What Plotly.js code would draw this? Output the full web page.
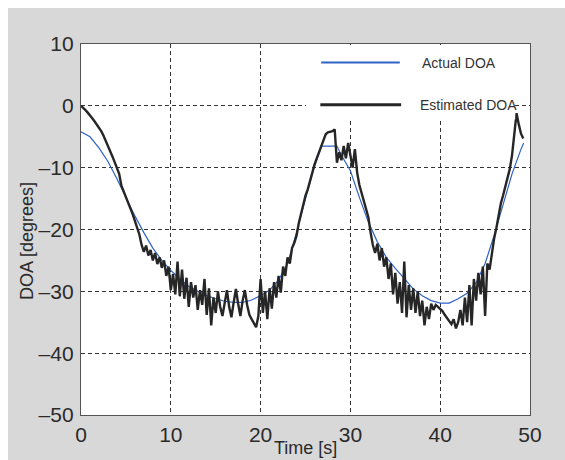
<!DOCTYPE html>
<html>
<head>
<meta charset="utf-8">
<script src="https://cdn.plot.ly/plotly-3.0.1.min.js"></script>
<style>
  html, body { margin: 0; padding: 0; background: #ffffff; overflow: hidden; }
  #chart { position: absolute; left: 8px; top: 8px; width: 557px; height: 452px; }
</style>
</head>
<body>
<div id="chart"></div>
<script>
// ---- data ----
const actualT = [0,1,2,3,4,5,6,7,8,9,10,11,12,13,14,15,16,17,18,19,20,21,22,23,24,25,26,26.8,28.5,29,30,31,32,33,34,35,36,37,38,39,40,41,42,43,44,45,46,47,48,49,49.3];
const actualDOA = [-4.2,-5.0,-6.8,-9.0,-11.8,-14.8,-17.8,-20.5,-23.0,-25.0,-26.6,-28.0,-29.2,-30.0,-30.7,-31.2,-31.6,-31.8,-31.8,-31.4,-30.7,-29.8,-28.2,-25.5,-20.5,-15.0,-9.8,-6.5,-6.5,-8.0,-10.5,-14.8,-18.8,-22.0,-24.5,-26.3,-28.0,-29.6,-30.7,-31.5,-31.9,-31.9,-31.2,-30.3,-28.6,-25.5,-21.0,-16.0,-11.0,-7.0,-6.0];

const estT = [0,0.25,0.5,0.75,1,1.25,1.5,1.75,2,2.25,2.5,2.75,3,3.25,3.5,3.75,4,4.25,4.5,4.75,5,5.25,5.5,5.75,6,6.25,6.5,6.75,7,7.25,7.5,7.75,8,8.25,8.5,8.75,9,9.25,9.5,9.75,10,10.25,10.5,10.75,11,11.25,11.5,11.75,12,12.25,12.5,12.75,13,13.25,13.5,13.75,14,14.25,14.5,14.75,15,15.25,15.5,15.75,16,16.25,16.5,16.75,17,17.25,17.5,17.75,18,18.25,18.5,18.75,19,19.25,19.5,19.75,20,20.25,20.5,20.75,21,21.25,21.5,21.75,22,22.25,22.5,22.75,23,23.25,23.5,23.75,24,24.25,24.5,24.75,25,25.25,25.5,25.75,26,26.25,26.5,26.75,27,27.25,27.5,27.75,28,28.25,28.5,28.75,29,29.25,29.5,29.75,30,30.25,30.5,30.75,31,31.25,31.5,31.75,32,32.25,32.5,32.75,33,33.25,33.5,33.75,34,34.25,34.5,34.75,35,35.25,35.5,35.75,36,36.25,36.5,36.75,37,37.25,37.5,37.75,38,38.25,38.5,38.75,39,39.25,39.5,39.75,40,40.25,40.5,40.75,41,41.25,41.5,41.75,42,42.25,42.5,42.75,43,43.25,43.5,43.75,44,44.25,44.5,44.75,45,45.25,45.5,45.75,46,46.25,46.5,46.75,47,47.25,47.5,47.75,48,48.25,48.5,48.75,49,49.25];
const estDOA = [0,-0.3,-0.7,-1.1,-1.5,-2.0,-2.5,-3.0,-3.6,-4.1,-4.8,-5.6,-6.4,-7.3,-8.2,-9.1,-10.0,-11.0,-12.9,-13.8,-14.6,-15.5,-16.4,-17.5,-18.6,-19.6,-20.8,-22.5,-23.6,-22.6,-24.2,-23.3,-25.0,-23.8,-25.6,-24.5,-26.2,-25.0,-27.5,-26.0,-29.8,-27.2,-30.5,-25.2,-30.8,-26.5,-31.2,-27.8,-32.5,-28.5,-31.0,-29.0,-33.0,-29.8,-32.2,-28.0,-33.8,-29.5,-35.5,-31.0,-33.5,-30.0,-32.5,-34.0,-31.5,-29.8,-32.5,-34.2,-31.8,-29.6,-32.0,-34.0,-31.5,-29.8,-32.2,-33.8,-34.5,-35.2,-35.8,-34.0,-28.0,-33.5,-30.0,-34.5,-29.5,-32.8,-28.5,-31.0,-27.5,-30.2,-26.0,-27.5,-24.5,-25.5,-23.0,-22.2,-21.0,-19.0,-17.5,-15.8,-14.5,-13.5,-12.0,-10.8,-9.5,-8.5,-7.6,-6.6,-5.6,-4.6,-4.3,-4.2,-4.1,-3.8,-9.2,-7.5,-8.8,-6.5,-8.5,-6.0,-8.3,-10.0,-7.0,-10.8,-12.8,-14.0,-15.5,-16.8,-18.0,-20.5,-22.5,-23.8,-22.3,-25.0,-23.0,-26.0,-24.5,-28.0,-25.5,-30.5,-27.0,-32.0,-28.5,-33.5,-25.2,-34.2,-29.0,-33.0,-29.5,-33.5,-30.0,-34.0,-31.5,-35.5,-32.5,-34.5,-32.0,-33.0,-32.2,-32.5,-32.8,-33.2,-33.8,-34.3,-35.0,-35.3,-34.5,-36.0,-35.0,-33.0,-35.5,-31.0,-35.0,-29.0,-35.5,-28.0,-31.5,-27.0,-30.5,-26.0,-34.0,-25.5,-26.5,-23.5,-21.5,-19.8,-17.8,-15.8,-14.5,-13.0,-11.8,-10.2,-8.0,-4.0,-1.2,-3.0,-4.5,-5.3];

const seriesNames = ['Actual DOA', 'Estimated DOA'];
const xTicks = [0,10,20,30,40,50];
const xTickText = ['0','10','20','30','40','50'];
const yTicks = [10,0,-10,-20,-30,-40,-50];
const yTickText = ['10','0','\u201310','\u201320','\u201330','\u201340','\u201350'];
const xTitle = 'Time [s]';
const yTitle = 'DOA [degrees]';

// ---- styles ----
const blue = '#2f62c4';
const black = '#262626';
const gridColor = '#333333';
const fontFam = 'Liberation Sans, Arial, Helvetica, sans-serif';
const textColor = '#2a2a2a';

const traces = [
  { x: actualT, y: actualDOA, name: seriesNames[0], type: 'scatter', mode: 'lines',
    line: { color: blue, width: 1.2 }, showlegend: false },
  { x: estT, y: estDOA, name: seriesNames[1], type: 'scatter', mode: 'lines',
    line: { color: black, width: 2.4 }, showlegend: false }
];

const axisCommon = {
  showline: true, mirror: true, linecolor: '#555555', linewidth: 1.2,
  showgrid: true, gridcolor: gridColor, gridwidth: 1, griddash: '4px,3px',
  zeroline: false, ticks: '', ticklen: 0,
  tickfont: { family: fontFam, size: 21, color: textColor },
  automargin: false
};

const layout = {
  width: 557, height: 452,
  paper_bgcolor: '#d8d8d8',
  plot_bgcolor: '#ffffff',
  margin: { l: 73, r: 35, t: 36, b: 45 },
  showlegend: false,
  xaxis: Object.assign({}, axisCommon, {
    range: [0, 50], tickmode: 'array', tickvals: xTicks, ticktext: xTickText,
    ticklabelstandoff: 1
  }),
  yaxis: Object.assign({}, axisCommon, {
    range: [-50, 10], tickmode: 'array', tickvals: yTicks, ticktext: yTickText,
    ticklabelstandoff: 2
  }),
  shapes: [
    { type: 'rect', xref: 'paper', yref: 'paper', x0: 0.501, x1: 0.967, y0: 0.797, y1: 0.997,
      fillcolor: '#ffffff', line: { width: 0 }, layer: 'above' },
    { type: 'line', xref: 'paper', yref: 'paper', x0: 0.535, x1: 0.71, y0: 0.95, y1: 0.95,
      line: { color: blue, width: 2 }, layer: 'above' },
    { type: 'line', xref: 'paper', yref: 'paper', x0: 0.533, x1: 0.713, y0: 0.836, y1: 0.836,
      line: { color: black, width: 3 }, layer: 'above' }
  ],
  annotations: [
    { xref: 'paper', yref: 'paper', x: 0.755, y: 0.95, xanchor: 'left', yanchor: 'middle',
      text: seriesNames[0], showarrow: false, font: { family: fontFam, size: 14, color: '#333333' } },
    { xref: 'paper', yref: 'paper', x: 0.75, y: 0.836, xanchor: 'left', yanchor: 'middle',
      text: seriesNames[1], showarrow: false, font: { family: fontFam, size: 14, color: '#333333' } },
    { xref: 'paper', yref: 'paper', x: 0.501, y: -0.088, xanchor: 'center', yanchor: 'middle',
      text: xTitle, showarrow: false, font: { family: fontFam, size: 18, color: textColor } },
    { xref: 'paper', yref: 'paper', x: -0.12, y: 0.469, xanchor: 'center', yanchor: 'middle',
      text: yTitle, textangle: -90, showarrow: false, font: { family: fontFam, size: 18, color: textColor } }
  ]
};

Plotly.newPlot('chart', traces, layout, { displayModeBar: false, staticPlot: true });
</script>
</body>
</html>
